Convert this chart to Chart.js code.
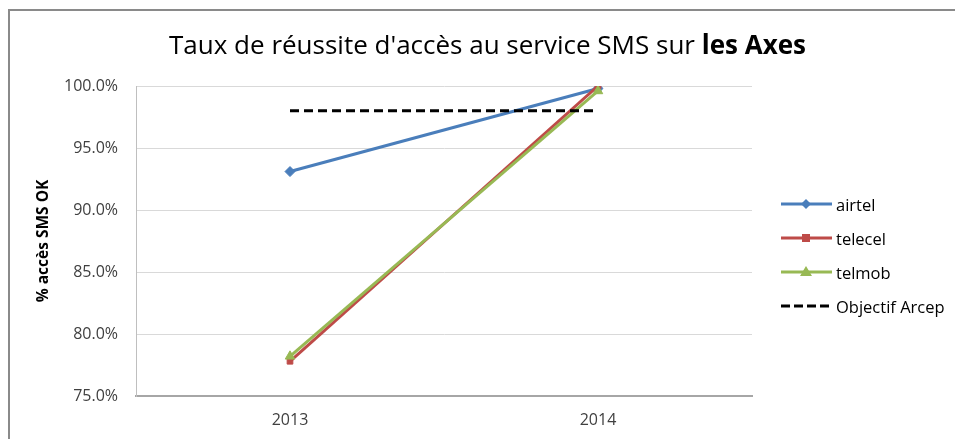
<!DOCTYPE html>
<html>
<head>
<meta charset="utf-8">
<script src="https://cdn.jsdelivr.net/npm/chart.js@4/dist/chart.umd.min.js"></script>
<style>
  html, body { margin: 0; padding: 0; background: #fff; }
  body { width: 955px; height: 439px; position: relative; overflow: hidden; font-family: "Open Sans", sans-serif; }
  #frame { position: absolute; left: 8px; top: 9px; width: 960px; height: 440px; border-left: 2px solid #8a8a8a; border-top: 2px solid #8a8a8a; }
  #wrap { position: absolute; left: 0; top: 0; width: 955px; height: 439px; }
  #title { position: absolute; left: 0; width: 975px; top: 27px; text-align: center; font-size: 26px; color: #000; line-height: 34px; }
  #legend { position: absolute; left: 781px; top: 187px; }
  .item { height: 34px; display: flex; align-items: center; font-size: 16.5px; color: #000; }
  .item svg { margin-right: 4px; }
</style>
</head>
<body>
<div id="frame"></div>
<div id="wrap"><canvas id="chart"></canvas></div>
<div id="title">Taux de réussite d'accès au service SMS sur <b>les Axes</b></div>
<div id="legend"></div>
<script>
// values (percent)
const years = ['2013', '2014'];
const airtel = [93.1, 99.8];
const telecel = [77.8, 100.0];
const telmob = [78.2, 99.6];
const objectif = [98.0, 98.0];
const seriesNames = ['airtel', 'telecel', 'telmob', 'Objectif Arcep'];
const yMin = 75, yMax = 100, yStep = 5;

const C = {
  blue: '#4a7ebb',
  red: '#be4b48',
  green: '#98b954',
  black: '#000000',
  grid: '#d9d9d9',
  axis: '#a6a6a6',
  text: '#404040',
};

const FONT = '"Open Sans", sans-serif';

function line(label, data, color, style, radius, order) {
  return {
    label, data, order,
    borderColor: color,
    backgroundColor: color,
    borderWidth: 3,
    pointStyle: style,
    pointRadius: radius,
    pointHoverRadius: radius,
    pointBorderWidth: 1,
    tension: 0,
  };
}

const datasets = [
  line(seriesNames[0], airtel, C.blue, 'rectRot', 5, 3),
  line(seriesNames[1], telecel, C.red, 'rect', 4, 2),
  line(seriesNames[2], telmob, C.green, 'triangle', 5.5, 1),
  Object.assign(line(seriesNames[3], objectif, C.black, false, 0, 0), { borderDash: [9, 5] }),
];

new Chart(document.getElementById('chart'), {
  type: 'line',
  data: { labels: years, datasets },
  options: {
    responsive: true,
    maintainAspectRatio: false,
    animation: false,
    layout: { padding: { top: 86, right: 203, left: 0, bottom: 0 } },
    plugins: { legend: { display: false }, tooltip: { enabled: false } },
    scales: {
      x: {
        offset: true,
        grid: { display: false, drawTicks: false },
        border: { color: C.axis, width: 2 },
        ticks: { color: C.text, padding: 15, font: { family: FONT, size: 16 } },
        afterFit: (s) => { s.height = 43; },
      },
      y: {
        min: yMin, max: yMax,
        grid: { color: C.grid, drawTicks: false },
        border: { color: '#bfbfbf', width: 1 },
        ticks: {
          stepSize: yStep, padding: 18, color: C.text,
          font: { family: FONT, size: 16 },
          callback: (v) => v.toFixed(1) + '%',
        },
        title: {
          display: true, text: '% accès SMS OK', color: '#000',
          font: { family: FONT, size: 15.5, weight: 'bold' },
          padding: { top: 34, bottom: 0 },
        },
        afterFit: (s) => { s.width = 136; },
      },
    },
  },
});

// legend swatches: line with the series marker in the middle
const leg = document.getElementById('legend');
const markers = [
  '<polygon points="25,3 30,8 25,13 20,8" fill="' + C.blue + '"/>',
  '<rect x="21" y="4" width="8" height="8" fill="' + C.red + '"/>',
  '<polygon points="25,2 31,12 19,12" fill="' + C.green + '"/>',
  '',
];
datasets.forEach((d, i) => {
  const dash = d.borderDash ? ' stroke-dasharray="9,4"' : '';
  leg.insertAdjacentHTML('beforeend',
    '<div class="item"><svg width="51" height="16"><line x1="0" y1="8" x2="51" y2="8" stroke="' +
    d.borderColor + '" stroke-width="3"' + dash + '/>' + markers[i] + '</svg>' + d.label + '</div>');
});
</script>
</body>
</html>
